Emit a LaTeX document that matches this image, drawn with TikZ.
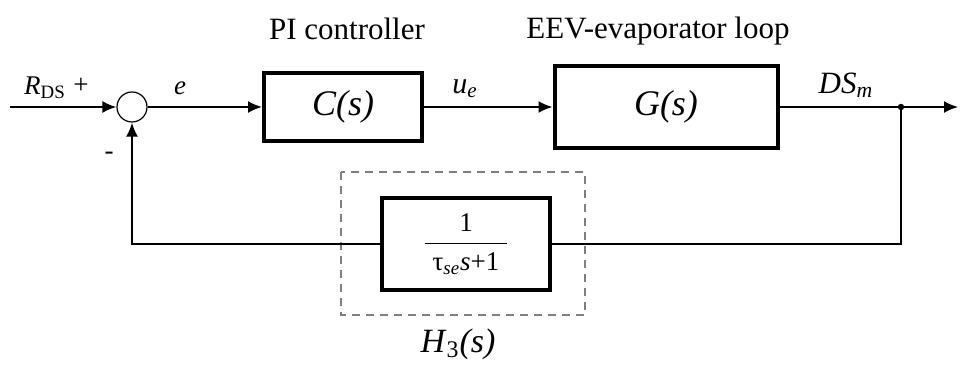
\documentclass[tikz,border=0pt]{standalone}
\usepackage{amsmath}
\usepackage{fontspec}
\setmainfont{Liberation Serif}
\usetikzlibrary{arrows.meta,positioning}

\begin{document}
\begin{tikzpicture}[
      x=0.5pt, y=-0.5pt,
      line join=miter, >={Latex[length=7pt,width=6pt]},
      line width=1pt,
      block/.style={draw, line width=2pt, inner sep=0pt},
      sumnode/.style={draw, circle, line width=0.6pt, minimum size=15pt,
        inner sep=0pt},
      sig/.style={font=\fontsize{13.5}{15}\selectfont},
      title/.style={font=\fontsize{15.5}{18}\selectfont},
      big/.style={font=\fontsize{18}{20}\selectfont}
    ]

    \useasboundingbox (0,0) rectangle (960,367);

    % ------------------ Blocks ------------------
    \node[sumnode] (sum) at (132,107) {};
    \node[block, big, minimum width=79pt, minimum height=34pt]
    (ctrl) at (343,107) {\textit{C(s)}};
    \node[block, big, minimum width=111.5pt, minimum height=41pt]
    (plant) at (666,107) {\textit{G(s)}};
    \node[block, minimum width=84pt, minimum height=46pt,
    font=\fontsize{13.5}{15}\selectfont]
    (fb) at (466,244)
    {$\dfrac{\text{1}}{\hspace{4pt}\text{τ\textsubscript{\textit{se}}\textit{s}+1}\hspace{4pt}}$};

    % ------------------ Dashed frame of H3 ------------------
    \draw[gray, line width=0.7pt, dash pattern=on 4pt off 3pt]
    (341,172) rectangle (585,315);
    \node[big, font=\fontsize{17}{19}\selectfont] (hlabel) at (458,344)
    {\textit{H}\textsubscript{3}\textit{(s)}};

    % ------------------ Titles ------------------
    \node[title] (pilabel) at (347,29) {PI controller};
    \node[title] (eevlabel) at (658,31) {EEV-evaporator loop};

    % ------------------ Signal path ------------------
    \coordinate (in) at (10,107);
    \coordinate (tap) at (901,107);
    \coordinate (out) at (958,107);

    \draw[->] (in) -- (sum);
    \draw[->] (sum) -- (ctrl);
    \draw[->] (ctrl) -- (plant);
    \draw[->] (plant) -- (out);
    \fill (tap) circle (1.6pt);
    \draw (tap) |- (fb);
    \draw[->] (fb) -| (sum);

    % ------------------ Signal labels ------------------
    \node[sig] (rlabel) at (45,88) {\textit{R}\textsubscript{DS}};
    \node[sig] (plus) at (81,86) {+};
    \node[sig] (minus) at (109,156) {-};
    \node[sig] (elabel) at (180,88) {\textit{e}};
    \node[sig, font=\fontsize{15}{17}\selectfont] (ulabel) at (465,89)
    {\textit{u}\textsubscript{\textit{e}}};
    \node[title] (ylabel) at (846,85) {\textit{DS}\textsubscript{\textit{m}}};

  \end{tikzpicture}
\end{document}
